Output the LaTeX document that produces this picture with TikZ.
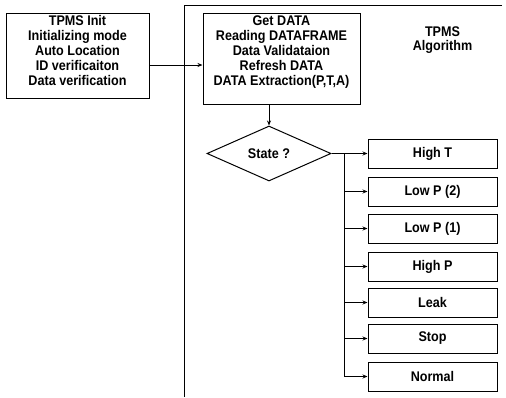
\documentclass[tikz,border=0pt]{standalone}
\usepackage{fontspec}
\setmainfont{Liberation Sans}[FakeStretch=0.9]
\usetikzlibrary{shapes.geometric,arrows.meta}
\tikzset{
  box/.style={draw, line width=1pt, inner sep=0pt, align=center},
  statebox/.style={box, minimum width=129pt, minimum height=29pt},
  decision/.style={draw, line width=1pt, diamond, aspect=2.25, inner sep=0pt,
    minimum width=124pt, minimum height=55pt},
  wire/.style={line width=0.8pt},
  arr/.style={wire, -{Stealth[length=5pt,width=4pt]}},
  lbl/.style={font=\bfseries\fontsize{14}{15}\selectfont, align=center}
}
\begin{document}
\begin{tikzpicture}[x=1pt, y=-1pt]
  \useasboundingbox (0,0) rectangle (506,397);

  % algorithm frame (open to the right and bottom)
  \coordinate (frameR) at (502,5);
  \coordinate (frameC) at (184,5);
  \coordinate (frameB) at (184,397);
  \draw[wire] (frameR) -- (frameC) -- (frameB);
  \node[lbl, font=\bfseries\fontsize{14}{14}\selectfont] (alg) at (442.5,40) {TPMS\\Algorithm};

  % initialisation block
  \node[box, minimum width=143pt, minimum height=85pt] (init) at (77.5,55.5) {};
  \node[lbl, anchor=north] (initT) at (77.5,12)
    {TPMS Init\\Initializing mode\\Auto Location\\ID verificaiton\\Data verification};

  % data acquisition block
  \node[box, minimum width=157pt, minimum height=91pt] (get) at (281.5,58.5) {};
  \node[lbl, anchor=north] (getT) at (281.5,12)
    {Get DATA\\Reading DATAFRAME\\Data Validataion\\Refresh DATA\\DATA Extraction(P,T,A)};

  \draw[arr] ([yshift=-9.5pt]init.east) -- ([yshift=-9.5pt]init.east -| get.west);

  % state decision
  \node[decision, lbl] (state) at (269,153.5) {State ?};
  \draw[arr] (get.south -| state.north) -- (state.north);

  % resulting states
  \node[statebox, lbl] (hight)  at (432.5,153.5) {High T};
  \node[statebox, lbl] (lowp2)  at (432.5,191.5) {Low P (2)};
  \node[statebox, lbl] (lowp1)  at (432.5,228.5) {Low P (1)};
  \node[statebox, lbl] (highp)  at (432.5,266.5) {High P};
  \node[statebox, lbl] (leak)   at (432.5,302.5) {Leak};
  \node[statebox, lbl] (stop)   at (432.5,338.5) {Stop};
  \node[statebox, lbl] (normal) at (432.5,376.5) {Normal};

  \coordinate (bus) at (344,153.5);
  \draw[arr] (state.east) -- (hight.west);
  \draw[wire] (bus) -- (bus |- normal.west);
  \foreach \s in {lowp2,lowp1,highp,leak,stop,normal}
    \draw[arr] (bus |- \s.west) -- (\s.west);
\end{tikzpicture}
\end{document}
